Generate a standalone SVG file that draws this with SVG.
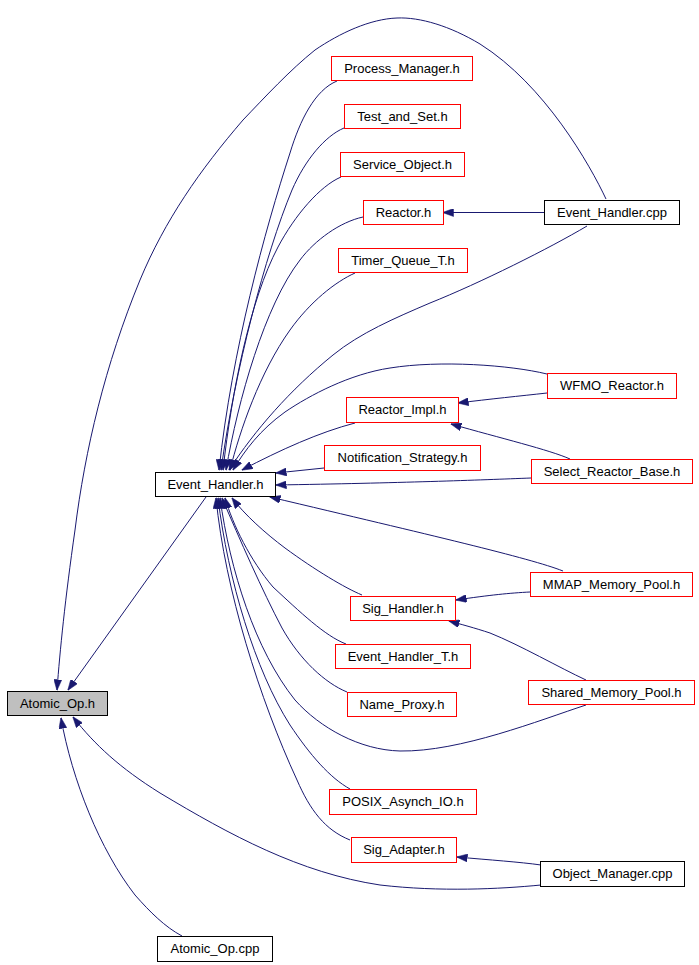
<svg xmlns="http://www.w3.org/2000/svg" width="699" height="965" viewBox="0 0 699 965">
<style>
.bg{fill:#ffffff}
.n rect{fill:#ffffff;stroke:#000000;stroke-width:1}
.n.r rect{stroke:#ff0000}
.n.g rect{fill:#bfbfbf}
.n text{font-family:"Liberation Sans",Arial,Helvetica,sans-serif;font-size:13px;fill:#000000;text-anchor:middle}
#edges path{fill:none;stroke:#191970;stroke-width:1;marker-end:url(#ah)}
</style>
<defs>
<marker id="ah" viewBox="0 0 11 8" refX="10.5" refY="4" markerWidth="11" markerHeight="8" markerUnits="userSpaceOnUse" orient="auto">
<path d="M0,0 L11,4 L0,8 z" fill="#191970" stroke="#191970" stroke-width="0.5"/>
</marker>
</defs>
<rect class="bg" x="0" y="0" width="699" height="965"/>
<g id="edges">
<path d="M206,497 L68,690"/>
<path d="M606,199 C590,165 545,85 480,44 C450,26 420,17 397,18 C370,19 340,33 315,50 C290,70 265,97 243,120 C200,170 165,220 140,280 C105,365 85,450 75,530 C65,600 60,650 57,690"/>
<path d="M544,212.5 L443,212.5"/>
<path d="M587,226 C550,248 480,283 430,303 C395,318 360,333 333,355 C290,390 255,430 229,470"/>
<path d="M337,81 C315,90 300,120 290,153 C265,230 232,350 219,470"/>
<path d="M344,128 C325,136 305,160 292,190 C265,255 235,370 221,470"/>
<path d="M341,177 C320,186 295,215 278,247 C250,300 232,390 223,470"/>
<path d="M363,217 C340,222 315,240 300,260 C265,305 238,400 226,470"/>
<path d="M355,273 C335,282 310,302 290,330 C260,372 240,430 230,470"/>
<path d="M547,374 C510,365 440,360 390,368 C350,374 310,395 285,412 C260,430 245,450 233,470"/>
<path d="M547,393 C520,396 490,399 458,403"/>
<path d="M355,423 C320,432 280,450 242,470"/>
<path d="M570,459 C550,450 500,438 451,424"/>
<path d="M324,468 L276,473"/>
<path d="M531,478 C480,480 400,483 276,485"/>
<path d="M563,571 C530,558 430,535 270,497"/>
<path d="M530,592 C510,593 490,595 456,600"/>
<path d="M362,595 C345,588 315,570 285,548 C265,533 245,515 232,498"/>
<path d="M586,680 C560,668 520,645 490,633 C475,628 460,624 449,621"/>
<path d="M346,644 C325,636 300,612 273,587 C250,560 233,525 225,498"/>
<path d="M347,692 C325,683 300,660 282,628 C262,590 240,540 222,498"/>
<path d="M586,705 C540,720 460,752 400,751 C360,750 320,728 295,700 C255,650 230,570 220,498"/>
<path d="M350,789 C330,778 310,755 290,725 C255,670 228,580 218,498"/>
<path d="M350,840 C325,830 310,810 297,780 C260,700 225,590 216,498"/>
<path d="M541,865 C520,862 490,860 457,857"/>
<path d="M541,885 C500,889 440,892 380,885 C300,873 230,835 160,793 C120,768 95,745 73,717"/>
<path d="M182,936 C165,927 150,912 135,895 C100,850 72,780 61,718"/>
</g>
<g id="atomic_op_h" class="n g"><rect x="7.5" y="691.5" width="100" height="24"/><text x="57.5" y="708">Atomic_Op.h</text></g>
<g id="event_handler_h" class="n"><rect x="155.5" y="472.5" width="120" height="24"/><text x="215.5" y="489">Event_Handler.h</text></g>
<g id="process_manager_h" class="n r"><rect x="331.5" y="56.5" width="141" height="24"/><text x="402" y="73">Process_Manager.h</text></g>
<g id="test_and_set_h" class="n r"><rect x="344.5" y="104.5" width="116" height="24"/><text x="402.5" y="121">Test_and_Set.h</text></g>
<g id="service_object_h" class="n r"><rect x="340.5" y="152.5" width="124" height="24"/><text x="402.5" y="169">Service_Object.h</text></g>
<g id="reactor_h" class="n r"><rect x="363.5" y="200.5" width="80" height="24"/><text x="403.5" y="217">Reactor.h</text></g>
<g id="event_handler_cpp" class="n"><rect x="544.5" y="200.5" width="135" height="24"/><text x="612" y="217">Event_Handler.cpp</text></g>
<g id="timer_queue_t_h" class="n r"><rect x="338.5" y="248.5" width="129" height="24"/><text x="403" y="265">Timer_Queue_T.h</text></g>
<g id="wfmo_reactor_h" class="n r"><rect x="547.5" y="373.5" width="129" height="25"/><text x="612" y="390">WFMO_Reactor.h</text></g>
<g id="reactor_impl_h" class="n r"><rect x="346.5" y="397.5" width="112" height="25"/><text x="402.5" y="414">Reactor_Impl.h</text></g>
<g id="notification_strategy_h" class="n r"><rect x="324.5" y="445.5" width="156" height="25"/><text x="402.5" y="462">Notification_Strategy.h</text></g>
<g id="select_reactor_base_h" class="n r"><rect x="531.5" y="459.5" width="161" height="24"/><text x="612" y="476">Select_Reactor_Base.h</text></g>
<g id="mmap_memory_pool_h" class="n r"><rect x="530.5" y="572.5" width="162" height="24"/><text x="611.5" y="589">MMAP_Memory_Pool.h</text></g>
<g id="sig_handler_h" class="n r"><rect x="350.5" y="596.5" width="105" height="24"/><text x="403" y="613">Sig_Handler.h</text></g>
<g id="event_handler_t_h" class="n r"><rect x="335.5" y="644.5" width="135" height="24"/><text x="403" y="661">Event_Handler_T.h</text></g>
<g id="shared_memory_pool_h" class="n r"><rect x="528.5" y="680.5" width="166" height="24"/><text x="611.5" y="697">Shared_Memory_Pool.h</text></g>
<g id="name_proxy_h" class="n r"><rect x="347.5" y="692.5" width="109" height="24"/><text x="402" y="709">Name_Proxy.h</text></g>
<g id="posix_asynch_io_h" class="n r"><rect x="329.5" y="789.5" width="147" height="25"/><text x="403" y="806">POSIX_Asynch_IO.h</text></g>
<g id="sig_adapter_h" class="n r"><rect x="351.5" y="837.5" width="105" height="25"/><text x="404" y="854">Sig_Adapter.h</text></g>
<g id="object_manager_cpp" class="n"><rect x="540.5" y="861.5" width="144" height="25"/><text x="612.5" y="878">Object_Manager.cpp</text></g>
<g id="atomic_op_cpp" class="n"><rect x="157.5" y="936.5" width="115" height="25"/><text x="215" y="953">Atomic_Op.cpp</text></g>
</svg>
